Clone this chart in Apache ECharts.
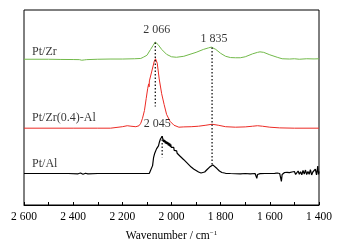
<!DOCTYPE html>
<html>
<head>
<meta charset="utf-8">
<script src="https://cdn.jsdelivr.net/npm/echarts@6/dist/echarts.min.js"></script>
<style>
  html, body { margin: 0; padding: 0; background: #fff; }
  #chart { width: 341px; height: 247px; }
</style>
</head>
<body>
<div id="chart"></div>
<script>
// spectra: [wavenumber, offset intensity]
const ptZr = [
  [2600, 148], [2500, 148], [2450, 147.8], [2400, 147.7], [2375, 147.6], [2365, 147], [2360, 146.5],
  [2355, 147.3], [2345, 147.6], [2300, 148], [2250, 148.2], [2200, 148.2], [2150, 148.5], [2125, 148.8],
  [2115, 150], [2100, 152], [2085, 158], [2075, 162], [2066, 165.5], [2055, 163], [2040, 158],
  [2020, 153], [2000, 150.5], [1980, 150], [1950, 151], [1900, 155], [1870, 158], [1850, 159.5],
  [1838, 160.3], [1830, 159.5], [1820, 158], [1800, 154], [1780, 151], [1760, 149.7], [1740, 149.5],
  [1720, 149.5], [1700, 150.5], [1670, 153.5], [1650, 155], [1640, 155.5], [1625, 155], [1600, 152.5],
  [1570, 150], [1550, 148.5], [1520, 148.2], [1500, 148.5], [1480, 148], [1450, 148.5], [1420, 148.3],
  [1400, 148.5]
]
const ptZrAl = [
  [2600, 78], [2400, 78], [2300, 78], [2248, 78], [2242, 79], [2200, 79.5], [2180, 80.5], [2165, 80],
  [2145, 79.5], [2140, 79.5], [2132, 80.5], [2125, 83], [2118, 88], [2110, 96], [2103, 108],
  [2097, 118], [2095, 119], [2093, 123], [2091, 120], [2090, 126], [2080, 136], [2070, 146],
  [2065, 148.5], [2058, 144], [2050, 128], [2040, 113], [2030, 102], [2020, 92], [2006, 85],
  [1990, 81], [1970, 79], [1950, 79.3], [1920, 79.5], [1890, 80], [1860, 81], [1835, 82], [1810, 81],
  [1780, 79.5], [1740, 79], [1700, 79.3], [1670, 80], [1650, 80.5], [1630, 80], [1600, 79],
  [1560, 78.3], [1500, 78], [1400, 78]
]
const ptAl = [
  [2600, 32], [2500, 32], [2420, 32], [2380, 31.7], [2370, 32.5], [2360, 31.2], [2350, 32.2],
  [2340, 31.6], [2300, 32], [2200, 32], [2120, 32], [2090, 32.2], [2082, 34], [2077, 40], [2073, 48],
  [2069, 52], [2065, 54], [2061, 57], [2057, 56], [2053, 60], [2049, 64], [2045, 67], [2041, 69],
  [2038, 69.7], [2035, 67], [2033, 64], [2031, 66.5], [2029, 63.5], [2027, 66], [2025, 62.5],
  [2023, 65], [2021, 62], [2019, 64.5], [2017, 61.5], [2015, 64], [2013, 60.5], [2011, 63],
  [2009, 60], [2007, 62.5], [2005, 59], [2003, 61.5], [2001, 58.5], [1999, 60.5], [1997, 57.5],
  [1995, 59.5], [1993, 56.5], [1991, 58.5], [1989, 55.5], [1987, 57], [1985, 54.5], [1983, 56],
  [1981, 53.5], [1979, 55], [1977, 52.5], [1975, 53.5], [1972, 51.5], [1970, 52], [1967, 50],
  [1965, 50.5], [1960, 48.5], [1950, 46], [1940, 43.5], [1930, 41], [1920, 38.5], [1910, 36.5],
  [1900, 35], [1890, 33.5], [1880, 32.5], [1872, 32.2], [1865, 33.5], [1855, 36], [1845, 38.5],
  [1838, 40.5], [1832, 40.7], [1825, 39.5], [1815, 37], [1805, 34.5], [1795, 33], [1780, 32.2],
  [1760, 32], [1720, 31.7], [1700, 32], [1680, 31.7], [1660, 32], [1656, 30.5], [1653, 27],
  [1650, 31], [1646, 32.5], [1640, 31.8], [1620, 32], [1600, 32], [1580, 32.2], [1570, 32.5],
  [1560, 32], [1556, 30], [1553, 24], [1550, 31], [1545, 32.5], [1540, 33], [1535, 31.2],
  [1530, 33.2], [1525, 31.5], [1520, 32.8], [1515, 31], [1510, 33.5], [1505, 31.7], [1500, 34],
  [1495, 31], [1490, 33], [1485, 34.5], [1480, 31.2], [1475, 33.8], [1470, 30.7], [1465, 35],
  [1460, 31.5], [1455, 35.5], [1450, 31], [1445, 34], [1440, 31.2], [1435, 36], [1430, 30.5],
  [1425, 33.5], [1420, 31.5], [1415, 36.5], [1410, 30.5], [1405, 39.5], [1402, 31], [1400, 34]
]

// dotted peak markers: [wavenumber, from, to]
const dropLines = [[2066, 165, 100], [1835, 160, 41], [2038, 70, 48.5]]
// peak annotations: [wavenumber, y, text]
const peakLabels = [[2060, 178, '2 066'], [1827, 169, '1 835'], [2058, 82, '2 045']]
// sample names: [wavenumber, y, text]
const sampleLabels = [[2567, 156, 'Pt/Zr'], [2567, 88.5, 'Pt/Zr(0.4)-Al'], [2567, 42, 'Pt/Al']]

const FONT = "'Liberation Serif', 'Times New Roman', serif"

const chart = echarts.init(document.getElementById('chart'), null, { renderer: 'canvas' })

const lineSeries = (data, color, width) => ({
  type: 'line',
  data,
  showSymbol: false,
  silent: true,
  lineStyle: { color, width },
  z: 3,
})

const textSeries = (rows, position) => ({
  type: 'scatter',
  data: rows.map(r => ({ value: [r[0], r[1]], name: r[2] })),
  symbolSize: 0,
  silent: true,
  label: {
    show: true,
    position,
    distance: 0,
    formatter: p => p.name,
    color: '#000',
    fontFamily: FONT,
    fontSize: 12,
  },
  z: 5,
})

chart.setOption({
  animation: false,
  grid: {
    left: 24, right: 22, top: 10, bottom: 39,
    show: true, borderColor: '#000', borderWidth: 1,
  },
  xAxis: {
    type: 'value',
    inverse: true,
    min: 1400,
    max: 2600,
    interval: 200,
    name: '{t|Wavenumber / cm}{s|−1}',
    nameLocation: 'middle',
    nameGap: 25,
    nameTextStyle: {
      rich: {
        t: { color: '#000', fontFamily: FONT, fontSize: 11.5 },
        s: { color: '#000', fontFamily: FONT, fontSize: 7, verticalAlign: 'top', padding: [0, 0, 5, 0] },
      },
    },
    axisLine: { lineStyle: { color: '#000', width: 1 } },
    axisTick: { inside: true, length: 3, lineStyle: { color: '#000' } },
    minorTick: { show: true, splitNumber: 2, length: 3, lineStyle: { color: '#000' } },
    splitLine: { show: false },
    axisLabel: {
      color: '#000',
      fontFamily: FONT,
      fontSize: 11.5,
      margin: 6,
      formatter: v => String(v).replace(/(\d)(\d{3})$/, '$1 $2'),
    },
  },
  yAxis: {
    type: 'value',
    min: 0,
    max: 198,
    show: false,
  },
  series: [
    lineSeries(ptZr, '#72b94a', 1),
    lineSeries(ptZrAl, '#ec2a24', 1),
    lineSeries(ptAl, '#000000', 1.2),
    ...dropLines.map(d => ({
      type: 'line',
      data: [[d[0], d[1]], [d[0], d[2]]],
      showSymbol: false,
      silent: true,
      lineStyle: { color: '#000', width: 1.2, type: [1.5, 2] },
      z: 4,
    })),
    textSeries(peakLabels, 'inside'),
    textSeries(sampleLabels, 'right'),
  ],
})
</script>
</body>
</html>
